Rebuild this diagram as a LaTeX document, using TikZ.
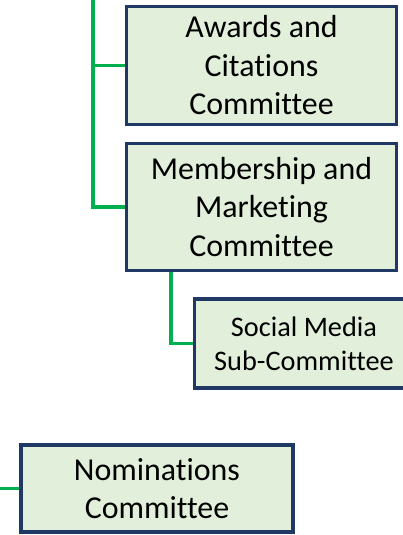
\documentclass[tikz,border=0pt]{standalone}
\usepackage{fontspec}
\setmainfont[Ligatures=NoCommon]{Carlito}
\definecolor{boxnavy}{HTML}{1F3864}
\definecolor{boxfill}{HTML}{E2EFDA}
\definecolor{linkgreen}{HTML}{00B050}
\begin{document}
\begin{tikzpicture}[x=1pt,y=-1pt,
  cbox/.style={draw=boxnavy,fill=boxfill,line width=3.5pt,inner sep=0pt,align=center,
    font=\fontsize{31.9}{38.5}\selectfont},
  sbox/.style={cbox,font=\fontsize{28.3}{34}\selectfont},
  link/.style={draw=linkgreen,line width=3.2pt}]
\useasboundingbox (0,0) rectangle (403,535);
\node[cbox,minimum width=270pt,minimum height=118pt] (awards) at (261.5,65.5) {Awards and\\Citations\\Committee};
\node[cbox,minimum width=270pt,minimum height=127pt] (member) at (261.5,207) {Membership and\\Marketing\\Committee};
\node[sbox,minimum width=219pt,minimum height=89pt] (social) at (304,343.5) {Social Media\\Sub-Committee};
\node[cbox,minimum width=272pt,minimum height=87pt] (nomin) at (157,488.5) {Nominations\\Committee};
\coordinate (top) at (93,-5);
\coordinate (left) at (-5,488.5);
\coordinate (mb) at (171,0);
\draw[link] (top) |- (awards.west);
\draw[link] (top) |- (member.west);
\draw[link] (member.south -| mb) |- (social.west);
\draw[link] (left) -- (nomin.west);
\end{tikzpicture}
\end{document}
